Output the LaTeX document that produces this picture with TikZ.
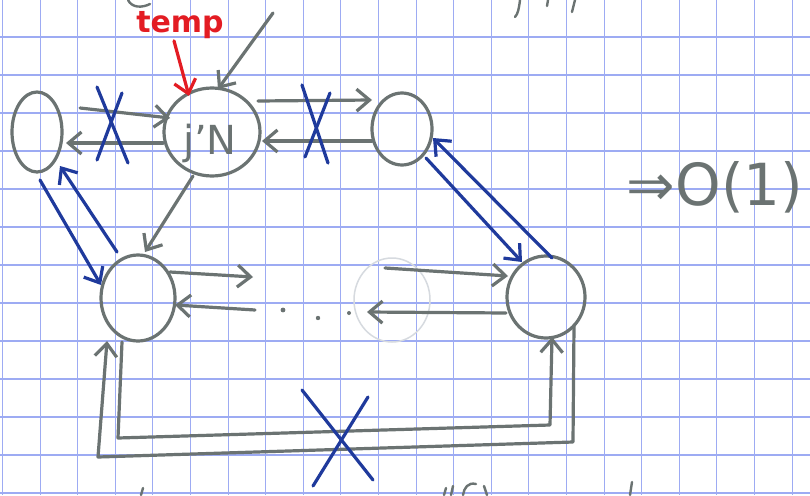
\documentclass[tikz,border=0pt]{standalone}
\usepackage{fontspec}
\setmainfont{DejaVu Sans}
\usetikzlibrary{shapes.geometric,arrows.meta,calc}
\definecolor{pencil}{HTML}{6B7372}
\definecolor{ink}{HTML}{1F3A9C}
\definecolor{redink}{HTML}{E31C23}
\definecolor{gridblue}{HTML}{9DABF3}
\definecolor{ghost}{HTML}{D6DADF}
\begin{document}
\begin{tikzpicture}[x=1pt,y=-1pt,
  state/.style={ellipse,draw=pencil,line width=3.2pt,inner sep=0pt},
  pen/.style={draw=pencil,line width=3.2pt,line cap=round,line join=round},
  blu/.style={draw=ink,line width=3.2pt,line cap=round,line join=round},
  redpen/.style={draw=redink,line width=3.2pt,line cap=round,line join=round},
  barb/.style={-{Straight Barb[length=13pt,width=22pt]}},
  gridline/.style={draw=gridblue,line width=1.1pt},
  frag/.style={draw=pencil,line width=2.4pt,line cap=round}
  ]
\useasboundingbox (0,0) rectangle (810,495);
\fill[white] (0,0) rectangle (810,495);
% grid paper
\foreach \i in {0,...,21} \draw[gridline] (2.5+37.6*\i,0) -- (2.5+37.6*\i,495);
\foreach \j in {1,...,13} \draw[gridline] (0,-1+38*\j) -- (810,-1+38*\j);
% faint ghost circle from the back of the page
\draw[ghost,line width=1.5pt] (392,300) ellipse (38 and 42);

% states
\node[state,minimum width=50pt,minimum height=80pt] (A) at (37,132) {};
\node[state,minimum width=96pt,minimum height=88pt] (JN) at (212,132) {};
\node[text=pencil,font=\fontsize{40}{40}\selectfont,inner sep=0pt] (JNlabel) at (210,143) {j'N};
\node[state,minimum width=60pt,minimum height=72pt] (C) at (402,129) {};
\node[state,minimum width=74pt,minimum height=86pt] (D) at (138,298) {};
\node[state,minimum width=78pt,minimum height=82pt] (E) at (546,297) {};

% red label
\node[text=redink,font=\bfseries\fontsize{30}{30}\selectfont,inner sep=0pt] (temp) at (180,25) {temp};
\draw[redpen,barb] ($(temp.south)+(-6,2)$) -- ($(JN)+(-23,-36)$);

% incoming pointer
\coordinate (topin) at (273,13);
\draw[pen,barb] (topin) -- ($(JN)+(6,-43)$);

% A <-> JN
\draw[pen,barb] ($(A)+(43,-24)$) -- ($(JN)+(-42,-14)$);
\draw[pen,barb] ($(JN)+(-49,11)$) -- ($(A)+(29,11)$);
% JN <-> C
\draw[pen,barb] ($(JN)+(46,-31)$) -- ($(C)+(-30,-29)$);
\draw[pen,barb] ($(C)+(-30,12)$) -- ($(JN)+(50,9)$);
% JN -> D
\draw[pen,barb] ($(JN)+(-19,44)$) -- ($(D)+(7,-46)$);

% blue A <-> D
\draw[blu,barb] ($(A)+(3,48)$) -- ($(D)+(-37,-13)$);
\draw[blu,barb] ($(D)+(-21,-46)$) -- ($(A)+(23,34)$);
% blue C <-> E
\draw[blu,barb] ($(E)+(6,-39)$) -- ($(C)+(31,9)$);
\draw[blu,barb] ($(C)+(24,29)$) -- ($(E)+(-24,-35)$);

% D ... E chain
\coordinate (dr) at (253,277);
\coordinate (el) at (385,268);
\coordinate (er) at (367,312);
\coordinate (dl) at (255,310);
\draw[pen,barb] ($(D)+(32,-26)$) -- (dr);
\draw[pen,barb] (el) -- ($(E)+(-38,-21)$);
\draw[pen,barb] ($(E)+(-40,16)$) -- (er);
\draw[pen,barb] (dl) -- ($(D)+(37,7)$);
\fill[pencil] (283,310) circle (2.4);
\fill[pencil] (318,318) circle (2.2);
\fill[pencil] (349,313) circle (2);

% bottom loops
\coordinate (il1) at (118,438);
\coordinate (il2) at (550,425);
\coordinate (ol1) at (573,442);
\coordinate (ol2) at (98,457);
\draw[pen,barb] ($(D)+(-16,44)$) -- (il1) -- (il2) -- ($(E)+(6,40)$);
\draw[pen,barb] ($(E)+(28,28)$) -- (ol1) -- (ol2) -- ($(D)+(-31,43)$);

% blue crosses
\draw[blu] (97,87) -- (128,163);
\draw[blu] (122,93) -- (97,160);
\draw[blu] (302,85) -- (328,163);
\draw[blu] (330,93) -- (305,157);
\draw[blu] (302,390) -- (373,480);
\draw[blu] (368,397) -- (313,486);

% result
\node[text=pencil,font=\fontsize{58}{58}\selectfont,inner sep=0pt] (bigO) at (715,187) {⇒O(1)};

% cut-off strokes at the page edges
\draw[frag] (128,0) .. controls (132,8) and (142,8) .. (150,4);
\draw[frag] (520,0) .. controls (519,8) and (518,14) .. (515,17);
\draw[frag] (548,0) -- (547,6);
\draw[frag] (575,0) -- (572,12);
\draw[frag] (143,488) -- (141,495);
\draw[frag] (446,488) -- (444,495);
\draw[frag] (453,486) -- (451,495);
\draw[frag] (476,484) .. controls (468,482) and (464,488) .. (463,495);
\draw[frag] (484,486) -- (487,495);
\draw[frag] (632,482) -- (630,495);
\end{tikzpicture}
\end{document}
